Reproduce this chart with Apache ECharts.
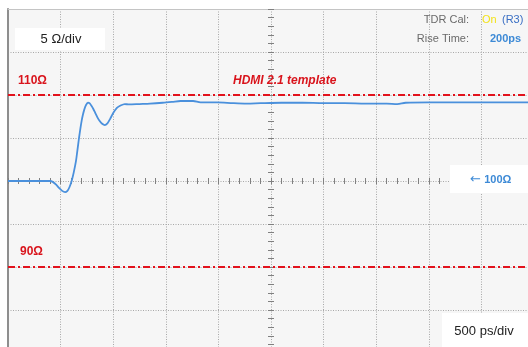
<!DOCTYPE html>
<html>
<head>
<meta charset="utf-8">
<script src="https://cdn.jsdelivr.net/npm/echarts@6/dist/echarts.min.js"></script>
<style>
  html, body { margin: 0; padding: 0; background: #ffffff; }
  #chart { width: 528px; height: 347px; }
</style>
</head>
<body>
<div id="chart"></div>
<script>
// TDR impedance trace: time (ps) vs. impedance (ohm)
const timePs = [0, 100, 200, 300, 400, 425, 455, 485, 515, 542, 565, 585, 605, 625, 646, 660, 675, 688, 700, 712, 725, 740, 760, 775, 790, 810, 830, 850, 870, 895, 920, 945, 970, 1000, 1035, 1065, 1110, 1150, 1250, 1350, 1470, 1560, 1640, 1760, 1830, 1990, 2140, 2270, 2400, 2600, 2800, 3000, 3200, 3400, 3600, 3700, 3780, 4000, 4300, 4600, 5000];
const impedanceOhm = [100, 100, 100, 100, 100, 99.9, 99.6, 99.2, 98.85, 98.7, 98.85, 99.3, 100.0, 101.0, 102.3, 103.6, 105.0, 106.1, 107.0, 107.7, 108.3, 108.8, 109.1, 109.05, 108.8, 108.4, 107.9, 107.4, 107.0, 106.65, 106.5, 106.7, 107.2, 107.9, 108.5, 108.75, 108.95, 108.9, 108.95, 109.0, 109.1, 109.2, 109.3, 109.3, 109.15, 109.15, 109.05, 109.0, 109.05, 109.1, 109.1, 109.05, 109.05, 109.0, 109.0, 108.95, 109.1, 109.15, 109.15, 109.15, 109.15];

// Template limits
const upperLimit = 110;
const lowerLimit = 90;

// Screen scales (10 x 8 divisions)
const timeMin = 0, timeMax = 5000, timeDiv = 500;
const ohmMin = 80, ohmMax = 120, ohmDiv = 5;

const traceData = timePs.map((t, i) => [t, impedanceOhm[i]]);

const chart = echarts.init(document.getElementById('chart'), null, { renderer: 'canvas' });

const gridDots = { show: true, lineStyle: { color: '#a8a8a8', type: [1, 1.5], width: 1 } };
const hidden = { show: false };

function centerX(inside) {
  return {
    type: 'value', min: timeMin, max: timeMax, interval: timeDiv,
    position: 'bottom', offset: -172,
    axisLine: hidden, axisLabel: hidden, splitLine: hidden,
    axisTick: { show: true, inside: inside, length: 3, lineStyle: { color: '#808080' } },
    minorTick: { show: true, splitNumber: 5, length: 3, lineStyle: { color: '#808080' } }
  };
}
function centerY(inside) {
  return {
    type: 'value', min: ohmMin, max: ohmMax, interval: ohmDiv,
    position: 'left', offset: -263,
    axisLine: hidden, axisLabel: hidden, splitLine: hidden,
    axisTick: { show: true, inside: inside, length: 3, lineStyle: { color: '#808080' } },
    minorTick: { show: true, splitNumber: 5, length: 3, lineStyle: { color: '#808080' } }
  };
}

const labelFont = '"Liberation Sans", Arial, sans-serif';

const option = {
  backgroundColor: '#ffffff',
  animation: false,
  grid: {
    left: 8, top: 9, width: 526, height: 344,
    outerBoundsMode: 'none',
    containLabel: false,
    show: true, backgroundColor: '#f6f6f6', borderWidth: 0
  },
  xAxis: [
    {
      type: 'value', min: timeMin, max: timeMax, interval: timeDiv,
      position: 'bottom',
      axisLine: hidden, axisTick: hidden, axisLabel: hidden,
      splitLine: gridDots
    },
    centerX(false),
    centerX(true),
    {
      type: 'value', min: timeMin, max: timeMax, interval: timeDiv,
      position: 'top',
      axisLine: { show: true, lineStyle: { color: '#c4c4c4', width: 1 } },
      axisTick: hidden, axisLabel: hidden, splitLine: hidden
    }
  ],
  yAxis: [
    {
      type: 'value', min: ohmMin, max: ohmMax, interval: ohmDiv,
      position: 'left',
      axisLine: { show: true, lineStyle: { color: '#8e8e8e', width: 2 } },
      axisTick: hidden, axisLabel: hidden,
      splitLine: gridDots
    },
    centerY(false),
    centerY(true)
  ],
  series: [
    {
      type: 'line',
      data: traceData,
      xAxisIndex: 0, yAxisIndex: 0,
      showSymbol: false,
      smooth: 0.3,
      lineStyle: { color: '#4a90dc', width: 1.8 },
      z: 5,
      markLine: {
        silent: true,
        symbol: ['none', 'none'],
        label: { show: false },
        lineStyle: { color: '#e2121c', width: 2, type: [7, 3, 2, 3] },
        data: [{ yAxis: upperLimit }, { yAxis: lowerLimit }]
      }
    }
  ],
  graphic: [
    // scale boxes
    { type: 'rect', left: 15, top: 28, shape: { width: 90, height: 22 }, style: { fill: '#ffffff' }, z: 10 },
    { type: 'text', x: 61, y: 39, style: { text: '5 Ω/div', fill: '#222222', font: '13px ' + labelFont, align: 'center', verticalAlign: 'middle' }, z: 11 },
    { type: 'rect', left: 442, top: 313, shape: { width: 90, height: 40 }, style: { fill: '#ffffff' }, z: 10 },
    { type: 'text', x: 484, y: 331, style: { text: '500 ps/div', fill: '#222222', font: '13px ' + labelFont, align: 'center', verticalAlign: 'middle' }, z: 11 },
    { type: 'rect', left: 450, top: 165, shape: { width: 80, height: 28 }, style: { fill: '#ffffff' }, z: 10 },
    {
      type: 'text', x: 470, y: 180, z: 11,
      style: {
        text: '{a|←} {b|100Ω}', verticalAlign: 'middle', align: 'left',
        rich: {
          a: { fill: '#3d8ad6', font: '13px "DejaVu Sans", sans-serif' },
          b: { fill: '#3d8ad6', font: 'bold 11px ' + labelFont }
        }
      }
    },
    // template labels
    { type: 'text', x: 18, y: 81, style: { text: '110Ω', fill: '#d9141c', font: 'bold 12px ' + labelFont, align: 'left', verticalAlign: 'middle' }, z: 11 },
    { type: 'text', x: 20, y: 252, style: { text: '90Ω', fill: '#d9141c', font: 'bold 12px ' + labelFont, align: 'left', verticalAlign: 'middle' }, z: 11 },
    { type: 'text', x: 233, y: 81, style: { text: 'HDMI 2.1 template', fill: '#d9141c', font: 'italic bold 12px ' + labelFont, align: 'left', verticalAlign: 'middle' }, z: 11 },
    // instrument status
    { type: 'text', x: 469, y: 20, style: { text: 'TDR Cal:', fill: '#6a6a6a', font: '11px ' + labelFont, align: 'right', verticalAlign: 'middle' }, z: 11 },
    { type: 'text', x: 482, y: 20, style: { text: 'On', fill: '#f2e21a', font: '11px ' + labelFont, align: 'left', verticalAlign: 'middle' }, z: 11 },
    { type: 'text', x: 502, y: 20, style: { text: '(R3)', fill: '#3a6fc4', font: '11px ' + labelFont, align: 'left', verticalAlign: 'middle' }, z: 11 },
    { type: 'text', x: 469, y: 39, style: { text: 'Rise Time:', fill: '#6a6a6a', font: '11px ' + labelFont, align: 'right', verticalAlign: 'middle' }, z: 11 },
    { type: 'text', x: 490, y: 39, style: { text: '200ps', fill: '#3d8ad6', font: 'bold 11px ' + labelFont, align: 'left', verticalAlign: 'middle' }, z: 11 }
  ]
};

chart.setOption(option);
</script>
</body>
</html>
